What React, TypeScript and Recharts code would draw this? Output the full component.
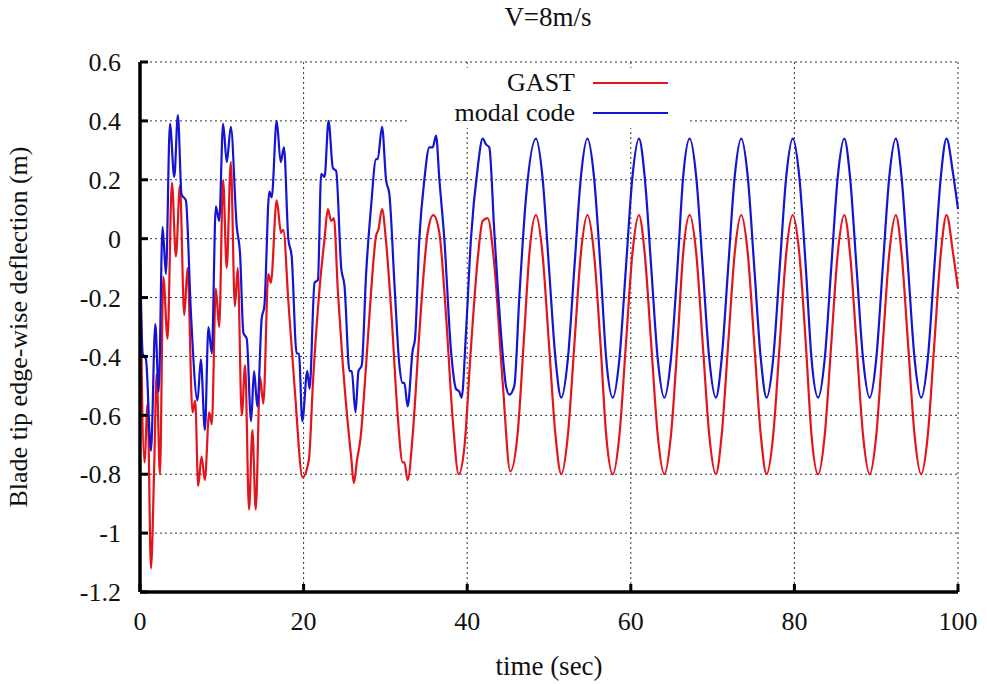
import { LineChart, Line, XAxis, YAxis, CartesianGrid, Legend } from "recharts";

const timeTicks = [0, 20, 40, 60, 80, 100];
const deflTicks = [-1.2, -1, -0.8, -0.6, -0.4, -0.2, 0, 0.2, 0.4, 0.6];

// GAST (red)
const gastTime = [
  0, 0.54, 0.93, 1.34, 1.74, 2.03, 2.44, 2.85, 3.37, 3.9, 4.39, 4.88, 5.41, 5.81, 6.42, 6.75, 7.11, 7.52, 7.93,
  8.46, 8.78, 9.27, 9.68, 10.16, 10.6, 11.1, 11.6, 11.95, 12.44, 12.85, 13.33, 13.74, 14.15, 14.68, 15.08, 15.69,
  16.0, 16.71, 17.24, 17.52, 18.13, 18.94, 19.88, 20.65, 21.14, 21.95, 22.56, 22.97, 23.37, 23.7, 24.19, 24.8,
  25.41, 25.81, 26.14, 26.54, 26.95, 27.64, 28.25, 28.86, 29.14, 29.59, 30.08, 30.77, 31.5, 32.11, 32.32, 32.72,
  33.33, 34.15, 34.76, 35.16, 35.86, 36.59, 37.41, 38.22, 38.96, 39.65, 40.46, 41.28, 41.89, 42.5, 43.32, 44.34,
  45.27, 46.17, 46.98, 47.6,
  48.4, 49.2, 50.0, 50.8, 51.5, 52.3, 53.1, 53.9, 54.7, 55.5, 56.3, 57.0, 57.8, 58.6, 59.4, 60.2,
  61.0, 61.7, 62.5, 63.3, 64.1, 64.9, 65.7, 66.4, 67.2, 68.0, 68.8, 69.6, 70.4, 71.1, 71.9, 72.7,
  73.5, 74.3, 75.1, 75.9, 76.6, 77.4, 78.2, 79.0, 79.8, 80.6, 81.4, 82.1, 82.9, 83.7, 84.5, 85.3,
  86.1, 86.8, 87.6, 88.4, 89.2, 90.0, 90.8, 91.6, 92.4, 93.1, 93.9, 94.7, 95.5, 96.3, 97.1, 97.9,
  98.6, 99.4, 100,
];
const gastDefl = [
  -0.05, -0.76, -0.56, -1.12, -0.77, -0.46, -0.8, -0.13, -0.34, 0.19, -0.06, 0.18, -0.26, -0.1, -0.59, -0.55, -0.84, -0.74, -0.82,
  -0.59, -0.63, -0.17, -0.3, 0.2, -0.1, 0.26, -0.23, -0.1, -0.6, -0.43, -0.92, -0.65, -0.92, -0.47, -0.56, -0.12,
  -0.15, 0.13, 0.02, 0.03, -0.21, -0.52, -0.81, -0.75, -0.49, -0.17, 0.0, 0.1, 0.06, 0.07, -0.18, -0.43,
  -0.63, -0.74, -0.83, -0.75, -0.68, -0.43, -0.18, 0.01, 0.03, 0.1, -0.01, -0.27, -0.6, -0.76, -0.76, -0.82,
  -0.67, -0.32, -0.09, 0.02, 0.08, 0.02, -0.26, -0.61, -0.8, -0.71, -0.37, -0.07, 0.06, 0.07, -0.09, -0.49,
  -0.79, -0.66, -0.32, -0.05,
  0.08, -0.05, -0.36, -0.67, -0.8, -0.67, -0.36, -0.05, 0.08, -0.05, -0.36, -0.67, -0.8, -0.67, -0.36, -0.05,
  0.08, -0.05, -0.36, -0.67, -0.8, -0.67, -0.36, -0.05, 0.08, -0.05, -0.36, -0.67, -0.8, -0.67, -0.36, -0.05,
  0.08, -0.05, -0.36, -0.67, -0.8, -0.67, -0.36, -0.05, 0.08, -0.05, -0.36, -0.67, -0.8, -0.67, -0.36, -0.05,
  0.08, -0.05, -0.36, -0.67, -0.8, -0.67, -0.36, -0.05, 0.08, -0.05, -0.36, -0.67, -0.8, -0.67, -0.36, -0.05,
  0.08, -0.05, -0.17,
];

// modal code (blue)
const modalTime = [
  0, 0.33, 0.73, 1.34, 1.87, 2.28, 2.76, 3.17, 3.66, 4.19, 4.63, 5.08, 5.61, 6.22, 7.03, 7.44, 7.93, 8.37, 8.78,
  9.27, 9.68, 10.16, 10.61, 11.1, 11.83, 12.23, 12.64, 13.05, 13.58, 13.94, 14.35, 14.88, 15.2, 15.81, 16.1,
  16.71, 17.2, 17.6, 18.13, 18.54, 19.15, 19.43, 19.84, 20.45, 20.73, 21.34, 21.75, 22.15, 22.56, 23.05, 23.58,
  23.98, 24.6, 25.0, 25.61, 25.89, 26.34, 26.71, 27.11, 27.64, 28.25, 28.86, 29.06, 29.59, 30.08, 30.49, 31.1,
  31.71, 32.11, 32.32, 32.72, 33.33, 33.62, 34.15, 34.76, 35.37, 35.78, 36.19, 36.6, 37.2, 38.02, 38.63, 39.04,
  39.32, 39.85, 40.46, 41.28, 41.89, 42.3, 42.7, 43.32, 44.13, 44.74, 45.15, 45.76, 46.37, 47.19,
  48.4, 49.2, 50.0, 50.8, 51.5, 52.3, 53.1, 53.9, 54.7, 55.5, 56.3, 57.0, 57.8, 58.6, 59.4, 60.2,
  61.0, 61.7, 62.5, 63.3, 64.1, 64.9, 65.7, 66.4, 67.2, 68.0, 68.8, 69.6, 70.4, 71.1, 71.9, 72.7,
  73.5, 74.3, 75.1, 75.9, 76.6, 77.4, 78.2, 79.0, 79.8, 80.6, 81.4, 82.1, 82.9, 83.7, 84.5, 85.3,
  86.1, 86.8, 87.6, 88.4, 89.2, 90.0, 90.8, 91.6, 92.4, 93.1, 93.9, 94.7, 95.5, 96.3, 97.1, 97.9,
  98.6, 99.4, 100,
];
const modalDefl = [
  -0.03, -0.39, -0.41, -0.72, -0.29, -0.52, 0.04, -0.12, 0.39, 0.21, 0.42, 0.15, 0.13, -0.25, -0.55, -0.41, -0.65, -0.3, -0.39,
  0.11, 0.06, 0.39, 0.26, 0.38, 0.04, -0.05, -0.32, -0.34, -0.62, -0.45, -0.57, -0.27, -0.23, 0.16, 0.14,
  0.4, 0.26, 0.31, 0.0, -0.06, -0.39, -0.39, -0.62, -0.45, -0.51, -0.15, -0.14, 0.22, 0.21, 0.4, 0.24,
  0.23, -0.1, -0.16, -0.45, -0.45, -0.59, -0.45, -0.43, -0.12, 0.11, 0.27, 0.27, 0.38, 0.2, 0.15, -0.15,
  -0.43, -0.49, -0.49, -0.57, -0.38, -0.34, 0.0, 0.2, 0.31, 0.31, 0.35, 0.2, 0.0, -0.38, -0.51, -0.52,
  -0.54, -0.32, 0.0, 0.24, 0.34, 0.32, 0.31, 0.02, -0.32, -0.5, -0.53, -0.5, -0.2, 0.14,
  0.34, 0.21, -0.1, -0.41, -0.54, -0.41, -0.1, 0.21, 0.34, 0.21, -0.1, -0.41, -0.54, -0.41, -0.1, 0.21,
  0.34, 0.21, -0.1, -0.41, -0.54, -0.41, -0.1, 0.21, 0.34, 0.21, -0.1, -0.41, -0.54, -0.41, -0.1, 0.21,
  0.34, 0.21, -0.1, -0.41, -0.54, -0.41, -0.1, 0.21, 0.34, 0.21, -0.1, -0.41, -0.54, -0.41, -0.1, 0.21,
  0.34, 0.21, -0.1, -0.41, -0.54, -0.41, -0.1, 0.21, 0.34, 0.21, -0.1, -0.41, -0.54, -0.41, -0.1, 0.21,
  0.34, 0.22, 0.1,
];

const SERIES = [
  { key: "gast", label: "GAST", color: "#e3141c", time: gastTime, defl: gastDefl },
  { key: "modal", label: "modal code", color: "#1414d2", time: modalTime, defl: modalDefl },
];

const FONT = "'Liberation Serif', 'Times New Roman', serif";

const tickStyle = { fill: "#111", fontSize: 26, fontFamily: FONT };
const frame = { stroke: "#000", strokeWidth: 3.5 };
const tickMark = { stroke: "#000", strokeWidth: 3 };

function KeyBox() {
  return (
    <div style={{ background: "#fff", width: 279, height: 60, fontFamily: FONT, fontSize: 26, color: "#111" }}>
      {SERIES.map((s) => (
        <div key={s.key} style={{ display: "flex", alignItems: "center", height: 30 }}>
          <div style={{ width: 167, textAlign: "right", lineHeight: "30px" }}>{s.label}</div>
          <div style={{ width: 18 }} />
          <div style={{ width: 75, height: 2, background: s.color }} />
        </div>
      ))}
    </div>
  );
}

export default function App() {
  return (
    <div style={{ position: "absolute", left: 0, top: 0, width: 987, height: 684, background: "#fff" }}>
      <div
        style={{
          position: "absolute",
          left: 448,
          width: 200,
          top: 2,
          textAlign: "center",
          fontFamily: FONT,
          fontSize: 27,
          color: "#111",
        }}
      >
        V=8m/s
      </div>
      <LineChart width={987} height={684} margin={{ top: 62, right: 29, bottom: 0, left: 0 }}>
        <CartesianGrid stroke="#333" strokeDasharray="2 3" strokeWidth={1} />
        <XAxis
          dataKey="t"
          type="number"
          domain={[0, 100]}
          ticks={timeTicks}
          height={92}
          axisLine={frame}
          tickLine={tickMark}
          tickSize={-8}
          tickMargin={28}
          tick={tickStyle}
          label={{
            value: "time (sec)",
            position: "insideBottom",
            offset: 9,
            style: { fill: "#111", fontSize: 27, fontFamily: FONT },
          }}
        />
        <XAxis
          xAxisId="top"
          orientation="top"
          dataKey="t"
          type="number"
          domain={[0, 100]}
          ticks={timeTicks}
          height={0}
          axisLine={frame}
          tickLine={tickMark}
          tickSize={-8}
          tick={false}
        />
        <YAxis
          type="number"
          domain={[-1.2, 0.6]}
          ticks={deflTicks}
          width={140}
          axisLine={frame}
          tickLine={tickMark}
          tickSize={-8}
          tickMargin={27}
          tick={tickStyle}
          tickFormatter={(v) => String(Math.round(v * 10) / 10)}
          label={{
            value: "Blade tip edge-wise deflection (m)",
            angle: -90,
            position: "insideLeft",
            offset: 18,
            style: { fill: "#111", fontSize: 26, fontFamily: FONT, textAnchor: "middle" },
          }}
        />
        <YAxis
          yAxisId="right"
          orientation="right"
          type="number"
          domain={[-1.2, 0.6]}
          ticks={deflTicks}
          width={0}
          axisLine={frame}
          tickLine={tickMark}
          tickSize={-8}
          tick={false}
        />
        <Legend
          layout="horizontal"
          verticalAlign="middle"
          align="center"
          content={() => <KeyBox />}
          wrapperStyle={{ left: 408, top: 68, width: 279, height: 60 }}
        />
        {SERIES.map((s) => (
          <Line
            key={s.key}
            data={s.time.map((t, i) => ({ t, y: s.defl[i] }))}
            dataKey="y"
            name={s.label}
            type="monotone"
            stroke={s.color}
            strokeWidth={2.2}
            dot={false}
            isAnimationActive={false}
          />
        ))}
      </LineChart>
    </div>
  );
}
